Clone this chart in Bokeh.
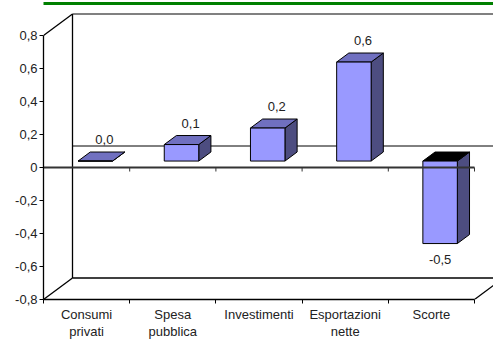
from bokeh.plotting import figure
from bokeh.models import Range1d, FixedTicker, ColumnDataSource, LinearAxis
from bokeh.core.properties import value
from bokeh.embed import file_html
from bokeh.resources import INLINE

# ---- data ----
categories = ["Consumi\nprivati", "Spesa\npubblica", "Investimenti", "Esportazioni\nnette", "Scorte"]
values = [0.0, 0.1, 0.2, 0.6, -0.5]
value_labels = ["0,0", "0,1", "0,2", "0,6", "-0,5"]
y_ticks = [-0.8, -0.6, -0.4, -0.2, 0.0, 0.2, 0.4, 0.6, 0.8]
y_tick_labels = ["-0,8", "-0,6", "-0,4", "-0,2", "0", "0,2", "0,4", "0,6", "0,8"]

# ---- geometry (pseudo-3D) ----
FONT = "Liberation Sans"
FS = "13px"
PX_X = 86.2          # pixels per category
PX_Y = 165.0         # pixels per unit of value
LEFT, TOP, BOTTOM = 43, 3, 43
W, H = 493, 342
FRAME_W, FRAME_H = W - LEFT, H - TOP - BOTTOM
DX = 29.0 / PX_X     # depth offset in x units
DY = 21.5 / PX_Y     # depth offset in value units
F1, F2 = 0.30, 0.72  # bar front / back depth fractions
HW = 0.20            # half bar width (category units)
YMIN, YMAX = -0.8, 0.8
n = len(values)
x_end = FRAME_W / PX_X
y_end = YMIN + FRAME_H / PX_Y

p = figure(width=W, height=H, output_backend="svg", toolbar_location=None,
           x_range=Range1d(0, x_end), y_range=Range1d(YMIN, y_end),
           min_border_left=LEFT, min_border_right=0, min_border_top=TOP, min_border_bottom=BOTTOM)
p.grid.visible = False
p.outline_line_color = None
p.background_fill_color = "white"
p.border_fill_color = "white"

# keep references to the main axes before adding anything else
xax = p.below[0]
yax = p.left[0]

# green rule across the top (two tick-less, label-less axes above the frame)
x_left = -LEFT / PX_X
for b in [(x_left, x_left + 5.0), (x_end - 1.0, x_end)]:
    ax = LinearAxis(ticker=FixedTicker(ticks=[], minor_ticks=[]), bounds=b,
                    major_tick_out=0, major_tick_in=0, minor_tick_out=0, minor_tick_in=0,
                    major_label_standoff=0, axis_label_standoff=0,
                    major_label_text_font_size="0px",
                    axis_line_color="#008000", axis_line_width=3)
    p.add_layout(ax, "above")

# back wall / floor structure
wall_top = YMAX + DY
wall_bot = YMIN + DY
p.segment(x0=[DX], y0=[wall_top], x1=[x_end], y1=[wall_top], line_color="#808080", line_width=2)
p.segment(x0=[DX, DX, 0, 0, n], y0=[wall_bot, wall_bot, YMAX, YMIN, YMIN],
          x1=[DX, x_end, DX, DX, n + DX], y1=[wall_top, wall_bot, wall_top, wall_bot, YMIN + DY],
          line_color="black", line_width=1.3)
# back zero line
p.segment(x0=[DX], y0=[DY], x1=[x_end], y1=[DY], line_color="black", line_width=1)

# bars
front_xs, front_ys, top_xs, top_ys, side_xs, side_ys, top_cols = [], [], [], [], [], [], []
ddx = (F2 - F1) * DX
ddy = (F2 - F1) * DY
for i, v in enumerate(values):
    c = i + 0.5 + F1 * DX
    xl, xr = c - HW, c + HW
    yb = min(0.0, v) + F1 * DY
    yt = max(0.0, v) + F1 * DY
    front_xs.append([xl, xr, xr, xl]); front_ys.append([yb, yb, yt, yt])
    top_xs.append([xl, xr, xr + ddx, xl + ddx]); top_ys.append([yt, yt, yt + ddy, yt + ddy])
    side_xs.append([xr, xr + ddx, xr + ddx, xr]); side_ys.append([yb, yb + ddy, yt + ddy, yt])
    top_cols.append("black" if v < 0 else "#7070C0")

for k in range(n):
    p.patch(side_xs[k], side_ys[k], fill_color="#4D4D80", line_color="black", line_width=1)
    p.patch(top_xs[k], top_ys[k], fill_color=top_cols[k], line_color="black", line_width=1)
    p.patch(front_xs[k], front_ys[k], fill_color="#9999FF", line_color="black", line_width=1)

# front zero line with ticks
p.segment(x0=[0], y0=[0], x1=[n], y1=[0], line_color="#333333", line_width=2)
p.segment(x0=list(range(1, n + 1)), y0=[0] * n, x1=list(range(1, n + 1)), y1=[-4 / PX_Y] * n,
          line_color="#333333", line_width=1)

# value labels
lx, ly, loff = [], [], []
for i, v in enumerate(values):
    if v >= 0:
        lx.append(i + 0.5 + (F1 + F2) / 2 * DX + 3 / PX_X)
        ly.append(v + (F1 + F2) / 2 * DY)
        loff.append(-17)
    else:
        lx.append(i + 0.5 + F1 * DX)
        ly.append(v + F1 * DY)
        loff.append(16)
src = ColumnDataSource(dict(x=lx, y=ly, t=value_labels, off=loff))
p.text(x="x", y="y", text="t", y_offset="off", source=src, text_align="center",
       text_baseline="middle", text_font=value(FONT), text_font_size=FS, text_color="#222222")

# y axis
yax.ticker = FixedTicker(ticks=y_ticks, minor_ticks=[])
yax.major_label_overrides = {t: l for t, l in zip(y_ticks, y_tick_labels)}
yax.bounds = (YMIN, YMAX)
yax.major_tick_out = 4
yax.major_tick_in = 0
yax.minor_tick_out = 0
yax.minor_tick_in = 0
yax.axis_line_color = "black"
yax.axis_line_width = 1.3
yax.major_tick_line_color = "black"
yax.major_label_standoff = 2
yax.major_label_text_font = FONT
yax.major_label_text_font_size = FS
yax.major_label_text_color = "#222222"

# x axis (category labels at centres, ticks at boundaries)
centers = [i + 0.5 for i in range(n)]
xax.ticker = FixedTicker(ticks=centers, minor_ticks=list(range(0, n + 1)))
xax.major_label_overrides = {c: l for c, l in zip(centers, categories)}
xax.bounds = (0, n)
xax.major_tick_out = 0
xax.major_tick_in = 0
xax.minor_tick_out = 4
xax.minor_tick_in = 0
xax.minor_tick_line_color = "black"
xax.axis_line_color = "black"
xax.axis_line_width = 1.3
xax.major_label_standoff = 3
xax.major_label_text_font = FONT
xax.major_label_text_font_size = FS
xax.major_label_text_line_height = 1.15
xax.major_label_text_color = "#222222"

open("out.html", "w").write(file_html(p, INLINE))
